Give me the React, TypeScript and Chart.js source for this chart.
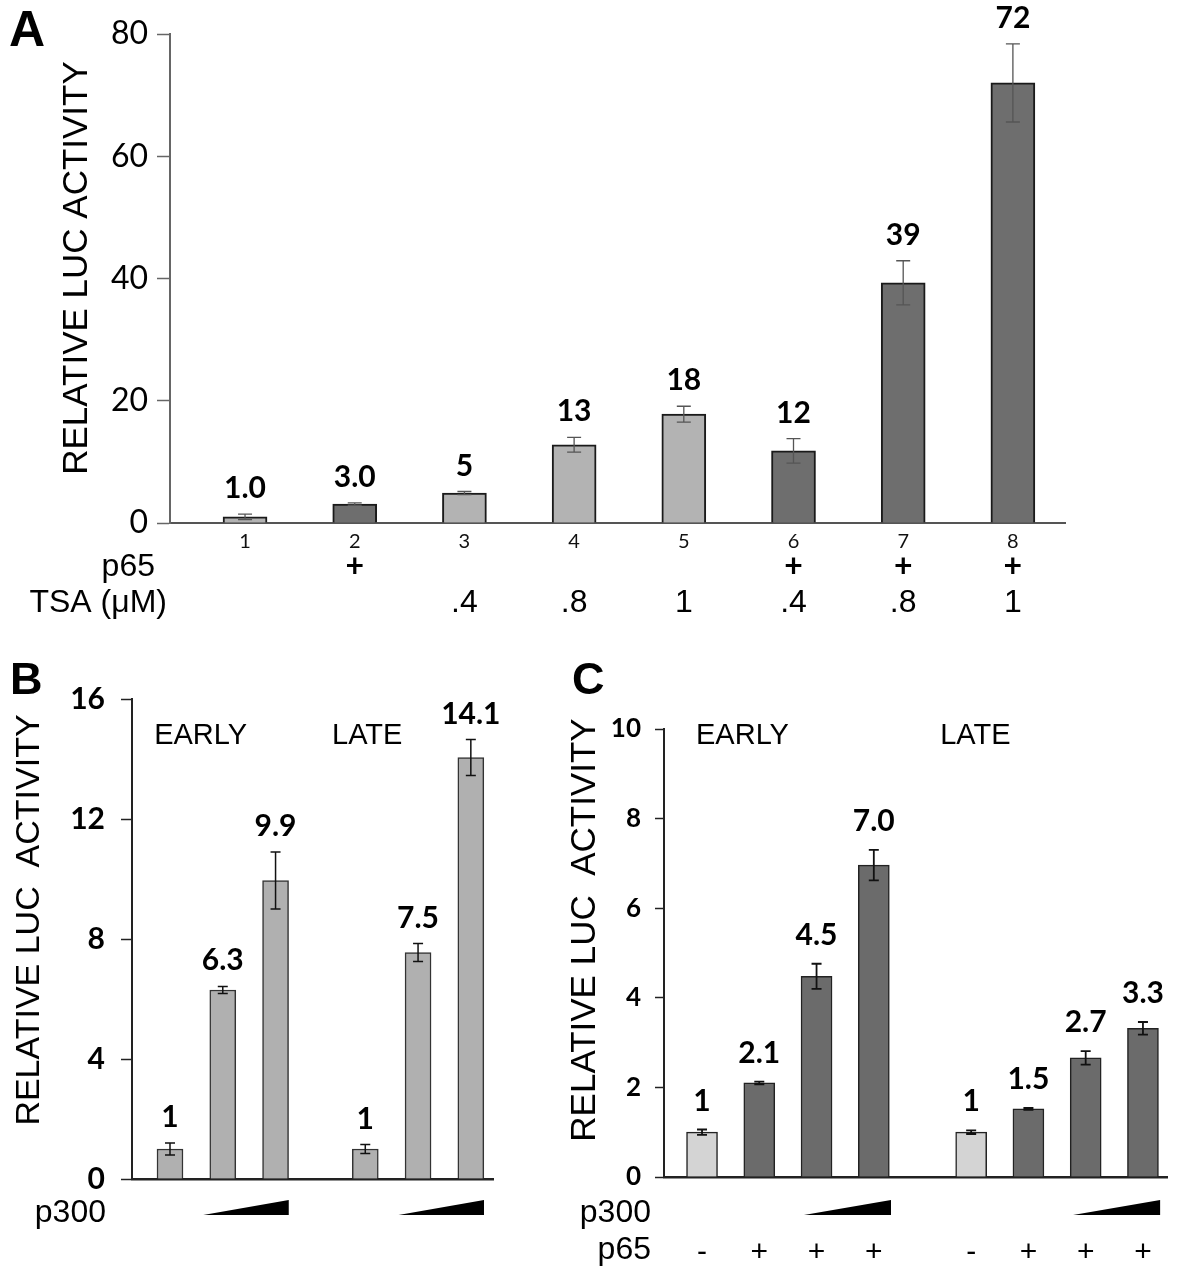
import React, { useEffect, useRef } from 'react';
import { Chart, registerables } from 'chart.js';

Chart.register(...registerables);

const SANS = '"Liberation Sans", Arial, Helvetica, sans-serif';
const NUM = 'Lato, "Open Sans", sans-serif';

// ---------- Panel A ----------
const aCategories = ['1', '2', '3', '4', '5', '6', '7', '8'];
const aValues = [1.0, 3.1, 4.9, 12.8, 17.8, 11.8, 39.3, 72.0];
const aErrors = [0.45, 0.2, 0.25, 1.2, 1.3, 2.0, 3.6, 6.4];
const aValueLabels = ['1.0', '3.0', '5', '13', '18', '12', '39', '72'];
const aP65 = ['', '+', '', '', '', '+', '+', '+'];
const aTSA = ['', '', '.4', '.8', '1', '.4', '.8', '1'];
const aYTicks = [0, 20, 40, 60, 80];

// ---------- Panel B ----------
const bGroups = ['EARLY', 'LATE'];
const bEarly = [1.0, 6.3, 9.95];
const bEarlyErr = [0.2, 0.12, 0.95];
const bEarlyLabels = ['1', '6.3', '9.9'];
const bLate = [1.0, 7.55, 14.05];
const bLateErr = [0.15, 0.3, 0.6];
const bLateLabels = ['1', '7.5', '14.1'];
const bYTicks = [0, 4, 8, 12, 16];

// ---------- Panel C ----------
const cGroups = ['EARLY', 'LATE'];
const cEarly = [1.0, 2.1, 4.48, 6.96];
const cEarlyErr = [0.06, 0.03, 0.28, 0.34];
const cEarlyLabels = ['1', '2.1', '4.5', '7.0'];
const cLate = [1.0, 1.52, 2.66, 3.32];
const cLateErr = [0.04, 0.02, 0.15, 0.14];
const cLateLabels = ['1', '1.5', '2.7', '3.3'];
const cP65 = ['-', '+', '+', '+'];
const cYTicks = [0, 2, 4, 6, 8, 10];

const Y_TITLE_A = 'RELATIVE LUC ACTIVITY';
const Y_TITLE_BC = 'RELATIVE LUC  ACTIVITY';

// ---------- helpers ----------
function drawText(ctx: any, s: string, x: number, y: number, font: string, align = 'center', baseline = 'middle', color = '#000') {
  ctx.save();
  ctx.font = font;
  ctx.fillStyle = color;
  ctx.textAlign = align;
  ctx.textBaseline = baseline;
  ctx.fillText(s, x, y);
  ctx.restore();
}

function drawRotated(ctx: any, s: string, x: number, y: number, font: string) {
  ctx.save();
  ctx.translate(x, y);
  ctx.rotate(-Math.PI / 2);
  ctx.font = font;
  ctx.fillStyle = '#000';
  ctx.textAlign = 'center';
  ctx.textBaseline = 'middle';
  ctx.fillText(s, 0, 0);
  ctx.restore();
}

function drawErrorBars(chart: any, dsIndex: number, values: number[], errors: number[], color: string, lw: number, cap: number) {
  const meta = chart.getDatasetMeta(dsIndex);
  const ys = chart.scales.y;
  const ctx = chart.ctx;
  ctx.save();
  ctx.strokeStyle = color;
  ctx.lineWidth = lw;
  meta.data.forEach((el: any, i: number) => {
    const x = el.x;
    const yt = ys.getPixelForValue(values[i] + errors[i]);
    const yb = ys.getPixelForValue(values[i] - errors[i]);
    ctx.beginPath();
    ctx.moveTo(x, yt);
    ctx.lineTo(x, yb);
    ctx.moveTo(x - cap, yt);
    ctx.lineTo(x + cap, yt);
    ctx.moveTo(x - cap, yb);
    ctx.lineTo(x + cap, yb);
    ctx.stroke();
  });
  ctx.restore();
}

function drawValueLabels(chart: any, dsIndex: number, values: number[], errors: number[], labels: string[], font: string, gap: number) {
  const meta = chart.getDatasetMeta(dsIndex);
  const ys = chart.scales.y;
  meta.data.forEach((el: any, i: number) => {
    const y = ys.getPixelForValue(values[i] + errors[i]) - gap;
    drawText(chart.ctx, labels[i], el.x, y, font, 'center', 'alphabetic');
  });
}

function drawWedge(chart: any, fromV: number, toV: number, yBottom: number, h: number) {
  const xs = chart.scales.x;
  const ctx = chart.ctx;
  const x0 = xs.getPixelForValue(fromV);
  const x1 = xs.getPixelForValue(toV);
  ctx.save();
  ctx.fillStyle = '#000';
  ctx.beginPath();
  ctx.moveTo(x0, yBottom);
  ctx.lineTo(x1, yBottom);
  ctx.lineTo(x1, yBottom - h);
  ctx.closePath();
  ctx.fill();
  ctx.restore();
}

function yAxis(width: number, max: number, ticks: number[], font: any, padding: number, tickLength: number, color: string, borderWidth: number) {
  return {
    min: 0,
    max,
    afterFit: (s: any) => { s.width = width; },
    afterBuildTicks: (s: any) => { s.ticks = ticks.map((v) => ({ value: v })); },
    ticks: { padding, font, color: '#000', autoSkip: false },
    grid: { display: true, drawOnChartArea: false, drawTicks: true, tickLength, tickColor: color, tickWidth: 1.5 },
    border: { display: true, color, width: borderWidth },
    title: { display: false },
  };
}

// ---------- Panel A config ----------
const A_X_MIN = -0.684;
const A_X_MAX = 7.475;

function buildA() {
  const plugin = {
    id: 'panelA',
    afterDatasetsDraw(chart: any) {
      drawErrorBars(chart, 0, aValues, aErrors, '#555', 1.3, 7);
      drawValueLabels(chart, 0, aValues, aErrors, aValueLabels, `bold 30px ${NUM}`, 16);
    },
    afterDraw(chart: any) {
      const ctx = chart.ctx;
      const xs = chart.scales.x;
      drawText(ctx, 'A', 9, 46, `bold 50px ${SANS}`, 'left', 'alphabetic');
      drawRotated(ctx, Y_TITLE_A, 77, 268, `35px ${SANS}`);
      drawText(ctx, 'p65', 155, 567, `32px ${SANS}`, 'right');
      drawText(ctx, 'TSA (\u03bcM)', 167, 603, `32px ${SANS}`, 'right');
      aCategories.forEach((_, i) => {
        const x = xs.getPixelForValue(i);
        if (aP65[i]) drawText(ctx, aP65[i], x, 567, `bold 32px ${NUM}`);
        if (aTSA[i]) drawText(ctx, aTSA[i], x, 603, `32px ${SANS}`);
      });
    },
  };
  return {
    type: 'bar',
    data: {
      datasets: [
        {
          data: aValues.map((v, i) => ({ x: i, y: v })),
          backgroundColor: aP65.map((p) => (p === '+' ? '#6e6e6e' : '#b3b3b3')),
          borderColor: '#1a1a1a',
          borderWidth: 2,
          barThickness: 44,
          grouped: false,
        },
      ],
    },
    options: {
      responsive: false,
      animation: false,
      events: [],
      layout: { padding: { left: 0, right: 135, top: 34, bottom: 77 } },
      plugins: { legend: { display: false }, tooltip: { enabled: false } },
      scales: {
        x: {
          type: 'linear',
          min: A_X_MIN,
          max: A_X_MAX,
          offset: false,
          afterFit: (s: any) => { s.height = 40; },
          afterBuildTicks: (s: any) => { s.ticks = aCategories.map((_, i) => ({ value: i })); },
          ticks: {
            autoSkip: false,
            maxRotation: 0,
            padding: 7,
            font: { family: NUM, size: 20 },
            color: '#111',
            callback: (_v: any, i: number) => aCategories[i],
          },
          grid: { display: true, drawOnChartArea: false, drawTicks: false },
          border: { display: true, color: '#555', width: 2 },
        },
        y: yAxis(170, 80, aYTicks, { family: NUM, size: 32 }, 9, 13, '#666', 2),
      },
    },
    plugins: [plugin],
  };
}

// ---------- Panel B config ----------
const B_LATE_START = 3.7;
const B_X_MIN = -0.72;
const B_X_MAX = 6.12;

function buildB() {
  const plugin = {
    id: 'panelB',
    afterDatasetsDraw(chart: any) {
      drawErrorBars(chart, 0, bEarly, bEarlyErr, '#111', 1.5, 5);
      drawErrorBars(chart, 1, bLate, bLateErr, '#111', 1.5, 5);
      drawValueLabels(chart, 0, bEarly, bEarlyErr, bEarlyLabels, `bold 30px ${NUM}`, 16);
      drawValueLabels(chart, 1, bLate, bLateErr, bLateLabels, `bold 30px ${NUM}`, 16);
    },
    afterDraw(chart: any) {
      const ctx = chart.ctx;
      const xs = chart.scales.x;
      drawText(ctx, 'B', 10, 54, `bold 45px ${SANS}`, 'left', 'alphabetic');
      drawRotated(ctx, Y_TITLE_BC, 30, 280, `34px ${SANS}`);
      drawText(ctx, bGroups[0], xs.getPixelForValue(-0.3), 96, `29px ${SANS}`, 'left');
      drawText(ctx, bGroups[1], xs.getPixelForValue(B_LATE_START - 0.63), 96, `29px ${SANS}`, 'left');
      drawText(ctx, 'p300', 106, 573, `32px ${SANS}`, 'right');
      drawWedge(chart, 1 - 0.37, 2 + 0.25, 575, 15);
      drawWedge(chart, B_LATE_START + 1 - 0.37, B_LATE_START + 2 + 0.25, 575, 15);
    },
  };
  const common = { backgroundColor: '#b0b0b0', borderColor: '#333', borderWidth: 1.5, barThickness: 26, grouped: false };
  return {
    type: 'bar',
    data: {
      datasets: [
        { ...common, label: bGroups[0], data: bEarly.map((v, i) => ({ x: i, y: v })) },
        { ...common, label: bGroups[1], data: bLate.map((v, i) => ({ x: B_LATE_START + i, y: v })) },
      ],
    },
    options: {
      responsive: false,
      animation: false,
      events: [],
      layout: { padding: { left: 0, right: 67, top: 59, bottom: 109 } },
      plugins: { legend: { display: false }, tooltip: { enabled: false } },
      scales: {
        x: {
          type: 'linear',
          min: B_X_MIN,
          max: B_X_MAX,
          offset: false,
          afterFit: (s: any) => { s.height = 0; },
          ticks: { display: false },
          grid: { display: true, drawOnChartArea: false, drawTicks: false },
          border: { display: true, color: '#222', width: 2.5 },
        },
        y: yAxis(132, 16, bYTicks, { family: NUM, size: 30, weight: 'bold' }, 16, 11, '#222', 2),
      },
    },
    plugins: [plugin],
  };
}

// ---------- Panel C config ----------
const C_LATE_START = 4.7;
const C_X_MIN = -0.664;
const C_X_MAX = 8.12;

function buildC() {
  const plugin = {
    id: 'panelC',
    afterDatasetsDraw(chart: any) {
      drawErrorBars(chart, 0, cEarly, cEarlyErr, '#111', 1.8, 5);
      drawErrorBars(chart, 1, cLate, cLateErr, '#111', 1.8, 5);
      drawValueLabels(chart, 0, cEarly, cEarlyErr, cEarlyLabels, `bold 30px ${NUM}`, 19);
      drawValueLabels(chart, 1, cLate, cLateErr, cLateLabels, `bold 30px ${NUM}`, 19);
    },
    afterDraw(chart: any) {
      const ctx = chart.ctx;
      const xs = chart.scales.x;
      drawText(ctx, 'C', 12, 54, `bold 45px ${SANS}`, 'left', 'alphabetic');
      drawRotated(ctx, Y_TITLE_BC, 25, 290, `35px ${SANS}`);
      drawText(ctx, cGroups[0], xs.getPixelForValue(-0.105), 96, `29px ${SANS}`, 'left');
      drawText(ctx, cGroups[1], xs.getPixelForValue(C_LATE_START - 0.54), 96, `29px ${SANS}`, 'left');
      drawText(ctx, 'p300', 91, 573, `32px ${SANS}`, 'right');
      drawText(ctx, 'p65', 91, 610, `32px ${SANS}`, 'right');
      drawWedge(chart, 2 - 0.22, 3 + 0.3, 575, 15);
      drawWedge(chart, C_LATE_START + 2 - 0.22, C_LATE_START + 3 + 0.3, 575, 15);
      cP65.forEach((p, i) => {
        drawText(ctx, p, xs.getPixelForValue(i), 613, `30px ${SANS}`);
        drawText(ctx, p, xs.getPixelForValue(C_LATE_START + i), 613, `30px ${SANS}`);
      });
    },
  };
  const colors = cP65.map((p) => (p === '+' ? '#6b6b6b' : '#d4d4d4'));
  const common = { backgroundColor: colors, borderColor: '#222', borderWidth: 1.5, barThickness: 31, grouped: false };
  return {
    type: 'bar',
    data: {
      datasets: [
        { ...common, label: cGroups[0], data: cEarly.map((v, i) => ({ x: i, y: v })) },
        { ...common, label: cGroups[1], data: cLate.map((v, i) => ({ x: C_LATE_START + i, y: v })) },
      ],
    },
    options: {
      responsive: false,
      animation: false,
      events: [],
      layout: { padding: { left: 0, right: 33, top: 89, bottom: 111 } },
      plugins: { legend: { display: false }, tooltip: { enabled: false } },
      scales: {
        x: {
          type: 'linear',
          min: C_X_MIN,
          max: C_X_MAX,
          offset: false,
          afterFit: (s: any) => { s.height = 0; },
          ticks: { display: false },
          grid: { display: true, drawOnChartArea: false, drawTicks: false },
          border: { display: true, color: '#222', width: 2.5 },
        },
        y: yAxis(104, 10, cYTicks, { family: NUM, size: 26, weight: 'bold' }, 14, 9, '#222', 2),
      },
    },
    plugins: [plugin],
  };
}

function ChartCanvas(props: { left: number; top: number; width: number; height: number; build: () => any }) {
  const ref = useRef<HTMLCanvasElement>(null);
  useEffect(() => {
    const chart = new Chart(ref.current as HTMLCanvasElement, props.build());
    return () => chart.destroy();
  }, []);
  return (
    <canvas
      ref={ref}
      width={props.width}
      height={props.height}
      style={{ position: 'absolute', left: props.left, top: props.top, width: props.width, height: props.height }}
    />
  );
}

export default function App() {
  return (
    <div style={{ position: 'absolute', left: 0, top: 0, width: 1200, height: 1288, background: '#fff', overflow: 'hidden' }}>
      <ChartCanvas left={0} top={0} width={1200} height={640} build={buildA} />
      <ChartCanvas left={0} top={640} width={560} height={648} build={buildB} />
      <ChartCanvas left={560} top={640} width={640} height={648} build={buildC} />
    </div>
  );
}
